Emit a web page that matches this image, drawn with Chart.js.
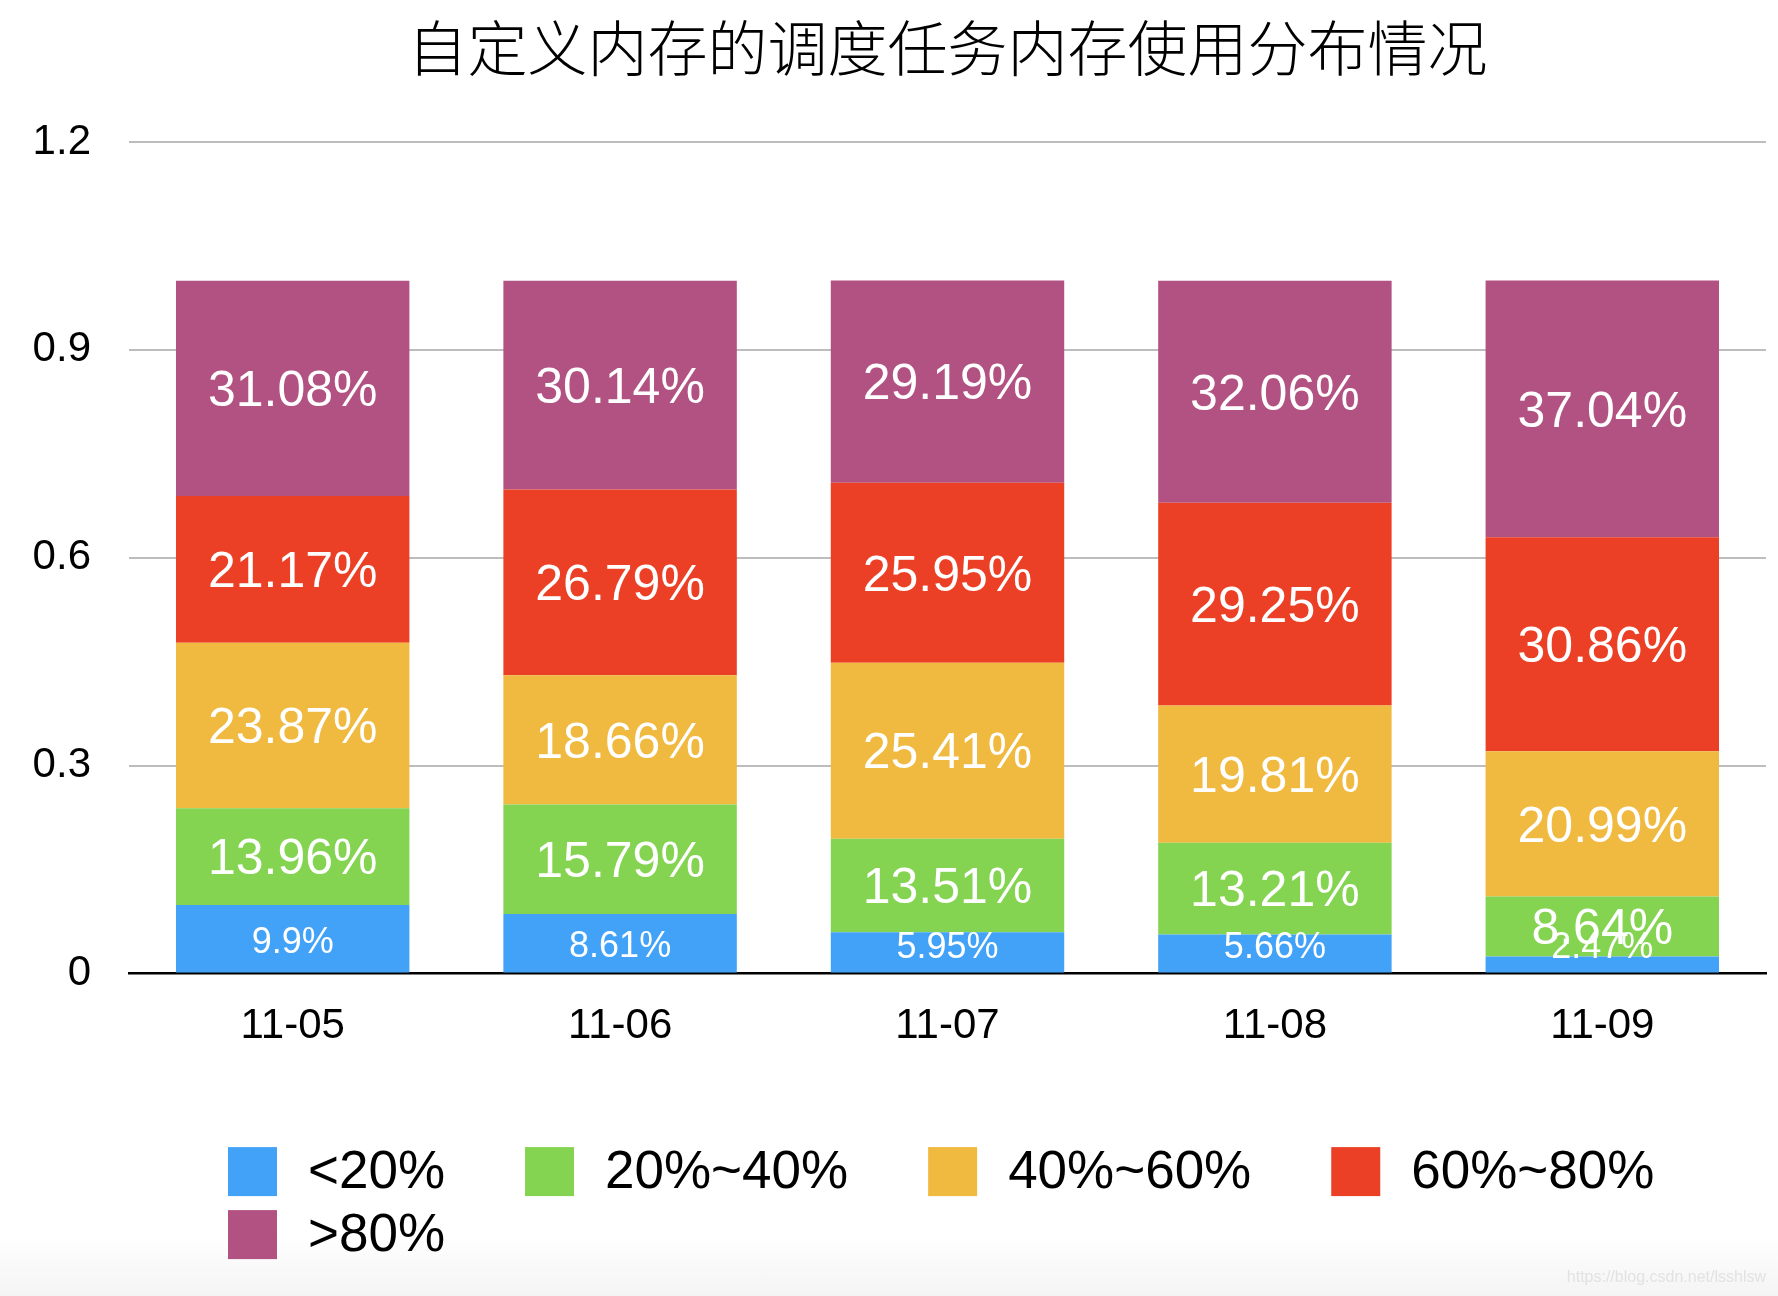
<!DOCTYPE html>
<html>
<head>
<meta charset="utf-8">
<title>自定义内存的调度任务内存使用分布情况</title>
<script src="https://cdn.jsdelivr.net/npm/chart.js@4.4.0/dist/chart.umd.min.js"></script>
<style>
  html, body { margin: 0; padding: 0; background: #fff; }
  #wrap { position: relative; width: 1778px; height: 1296px;
          background: linear-gradient(to bottom, #fff 0, #fff 1235px, #f4f4f4 1296px); }
  #mark { position: absolute; right: 12px; bottom: 10px; font: 16px "Liberation Sans", Arial, sans-serif; color: #e2e2e2; }
</style>
</head>
<body>
<div id="wrap">
  <canvas id="chart" width="1778" height="1296"></canvas>
  <div id="mark">https://blog.csdn.net/lsshlsw</div>
</div>
<script>
// 日期
const days = ['11-05', '11-06', '11-07', '11-08', '11-09'];
// 各区间所占百分比
const below20 = [9.9, 8.61, 5.95, 5.66, 2.47];
const from20to40 = [13.96, 15.79, 13.51, 13.21, 8.64];
const from40to60 = [23.87, 18.66, 25.41, 19.81, 20.99];
const from60to80 = [21.17, 26.79, 25.95, 29.25, 30.86];
const above80 = [31.08, 30.14, 29.19, 32.06, 37.04];
const yTicks = [0, 0.3, 0.6, 0.9, 1.2];

const seriesNames = ['<20%', '20%~40%', '40%~60%', '60%~80%', '>80%'];
const seriesValues = [below20, from20to40, from40to60, from60to80, above80];
const seriesColors = ['#42a2f8', '#84d452', '#f0b940', '#ec4026', '#b25282'];

const FONT = '"Liberation Sans", Arial, Helvetica, sans-serif';

// 柱内的百分比文字
const barLabels = {
    id: 'barLabels',
    afterDatasetsDraw(chart) {
        const ctx = chart.ctx;
        const bottom = chart.chartArea.bottom;
        ctx.save();
        ctx.fillStyle = '#fff';
        ctx.textAlign = 'center';
        ctx.textBaseline = 'middle';
        chart.data.datasets.forEach((ds, i) => {
            const size = i === 0 ? 36 : 50;
            ctx.font = size + 'px ' + FONT;
            chart.getDatasetMeta(i).data.forEach((bar, j) => {
                const p = bar.getProps(['x', 'y', 'base'], true);
                let cy = (p.y + p.base) / 2 + 4;
                cy = Math.min(cy, bottom - size * 0.7);
                ctx.fillText(seriesValues[i][j] + '%', p.x, cy);
            });
        });
        ctx.restore();
    }
};

// 图例：左对齐换行
const bottomLegend = {
    id: 'bottomLegend',
    afterDraw(chart) {
        const ctx = chart.ctx;
        const startX = 228, gap = 80, box = 49, textGap = 31, perRow = 4;
        const row1 = chart.chartArea.bottom + 198, rowStep = 63;
        ctx.save();
        ctx.font = '53px ' + FONT;
        ctx.textBaseline = 'middle';
        ctx.textAlign = 'left';
        let x = startX;
        seriesNames.forEach((name, i) => {
            if (i % perRow === 0) x = startX;
            const y = row1 + Math.floor(i / perRow) * rowStep;
            ctx.fillStyle = seriesColors[i];
            ctx.fillRect(x, y - box / 2, box, box);
            ctx.fillStyle = '#000';
            ctx.fillText(name, x + box + textGap, y + 2);
            x += box + textGap + ctx.measureText(name).width + gap;
        });
        ctx.restore();
    }
};

new Chart(document.getElementById('chart'), {
    type: 'bar',
    data: {
        labels: days,
        datasets: seriesNames.map((name, i) => ({
            label: name,
            data: seriesValues[i].map(v => v / 100),
            backgroundColor: seriesColors[i],
            borderWidth: 0,
            categoryPercentage: 1,
            barPercentage: 0.713
        }))
    },
    options: {
        responsive: false,
        animation: false,
        layout: { padding: { left: 0, right: 12, bottom: 224 } },
        plugins: {
            legend: { display: false },
            tooltip: { enabled: false },
            title: {
                display: true,
                text: '自定义内存的调度任务内存使用分布情况',
                fullSize: false,
                color: '#000',
                font: { family: '"Noto Sans CJK SC", sans-serif', size: 60, weight: 300, lineHeight: 1.2 },
                padding: { top: 12, bottom: 58 }
            }
        },
        scales: {
            x: {
                stacked: true,
                grid: { display: false },
                border: { display: true, color: '#000', width: 2.5 },
                ticks: { color: '#000', padding: 20, font: { family: FONT, size: 42 } }
            },
            y: {
                stacked: true,
                min: 0,
                max: 1.2,
                afterBuildTicks(scale) {
                    scale.ticks = yTicks.map(v => ({ value: v }));
                },
                afterFit(scale) { scale.width = 129; },
                grid: {
                    drawTicks: false,
                    lineWidth: 2,
                    color: c => c.tick && c.tick.value === 0 ? 'rgba(0,0,0,0)' : '#bdbdbd'
                },
                border: { display: false },
                ticks: {
                    color: '#000',
                    padding: 38,
                    font: { family: FONT, size: 42 },
                    callback: v => String(v)
                }
            }
        }
    },
    plugins: [barLabels, bottomLegend]
});
</script>
</body>
</html>
